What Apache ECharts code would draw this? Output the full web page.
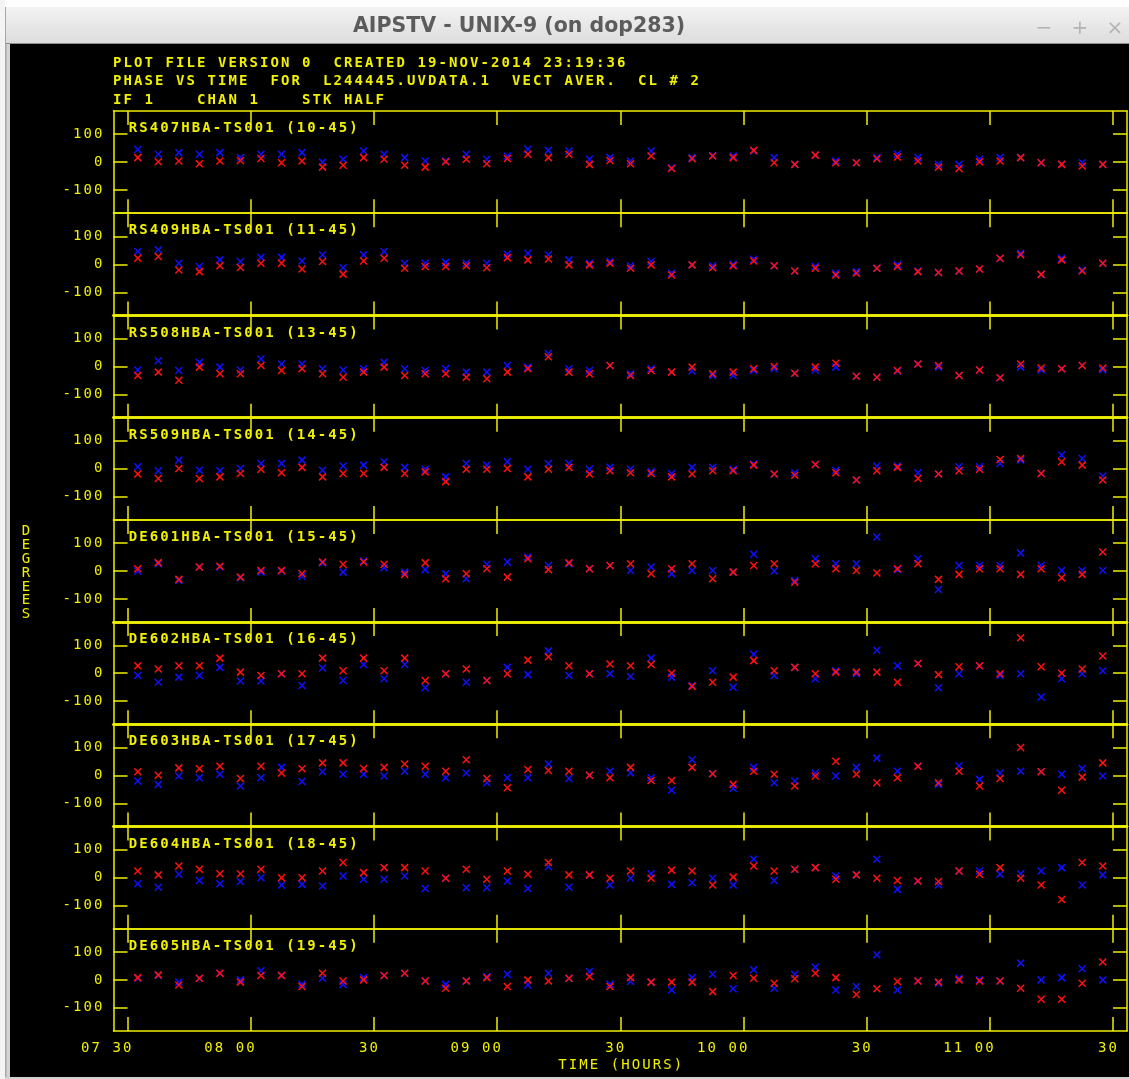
<!DOCTYPE html>
<html>
<head>
<meta charset="utf-8">
<title>AIPSTV - PHASE VS TIME</title>
<script src="https://cdn.jsdelivr.net/npm/echarts@6/dist/echarts.min.js"></script>
<style>
  html, body { margin: 0; padding: 0; background: #fff; }
  #plot { width: 1129px; height: 1079px; }
</style>
</head>
<body>
<div id="plot"></div>
<script>
// sample times, minutes since 00:00 (one point every 5 min, 07:32:30 .. 11:27:30)
const times = [452.5, 457.5, 462.5, 467.5, 472.5, 477.5, 482.5, 487.5, 492.5, 497.5,
  502.5, 507.5, 512.5, 517.5, 522.5, 527.5, 532.5, 537.5, 542.5, 547.5,
  552.5, 557.5, 562.5, 567.5, 572.5, 577.5, 582.5, 587.5, 592.5, 597.5,
  602.5, 607.5, 612.5, 617.5, 622.5, 627.5, 632.5, 637.5, 642.5, 647.5,
  652.5, 657.5, 662.5, 667.5, 672.5, 677.5, 682.5, 687.5]

const timeTicks = [450, 480, 510, 540, 570, 600, 630, 660, 690]
const timeTickLabels = ['07 30', '08 00', '30', '09 00', '30', '10 00', '30', '11 00', '30']
const phaseTicks = [-100, 0, 100]
const phaseTickLabels = ['-100', '0', '100']

const headerLines = [
  'PLOT FILE VERSION 0  CREATED 19-NOV-2014 23:19:36',
  'PHASE VS TIME  FOR  L244445.UVDATA.1  VECT AVER.  CL # 2',
  'IF 1    CHAN 1    STK HALF'
]

const baselines = [
  'RS407HBA-TS001 (10-45)', 'RS409HBA-TS001 (11-45)', 'RS508HBA-TS001 (13-45)',
  'RS509HBA-TS001 (14-45)', 'DE601HBA-TS001 (15-45)', 'DE602HBA-TS001 (16-45)',
  'DE603HBA-TS001 (17-45)', 'DE604HBA-TS001 (18-45)', 'DE605HBA-TS001 (19-45)'
]

// phases in degrees, blue and red polarisation
const rs407Blue = [45, 28, 34, 28, 34, 16, 28, 28, 34, 0, 10, 40, 28, 16, 4, 4, 28, 10, 22, 46, 42, 40, 10, 16, 4, 40, -20, 16, 24, 22, 40, 16, -8, 25, 4, -2, 16, 28, 16, -8, -8, 10, 16, 16, -2, -8, -2, -8]
const rs407Red = [16, 1, 4, -6, 4, 6, 13, -2, 4, -18, -11, 16, 10, -11, -18, 1, 10, -6, 13, 28, 16, 28, -8, 6, -6, 22, -23, 12, 22, 16, 42, -2, -8, 25, -2, -2, 12, 18, 4, -18, -23, 1, 4, 16, -2, -8, -14, -8]

const rs409Blue = [46, 52, 4, -8, 16, 10, 25, 25, 12, 34, -12, 34, 46, 4, 4, 7, 4, 4, 36, 40, 34, 16, 4, 10, -5, 10, -32, -2, -5, 0, 18, -5, -24, -8, -32, -26, -14, -2, -24, -29, -24, -17, 22, 40, -36, 22, -20, 4]
const rs409Red = [22, 28, -20, -26, -5, -11, 4, 4, -17, 10, -35, 12, 22, -14, -8, -8, -5, -12, 24, 16, 19, -2, -2, 4, -14, -2, -38, -2, -12, -5, 12, -5, -24, -14, -38, -32, -14, -8, -26, -29, -24, -17, 22, 34, -36, 16, -24, 4]

const rs508Blue = [-12, 21, -14, 15, -2, -12, 27, 9, 9, -8, -12, -8, 15, -8, -14, -8, -20, -20, 4, -2, 47, -8, -14, 4, -26, -8, -20, -16, -32, -32, -14, -8, -24, -12, -2, -35, -38, -16, 9, -2, -32, -12, -40, -2, -12, -8, 4, -12]
const rs508Red = [-32, -20, -49, -2, -26, -26, 4, -14, -8, -26, -38, -20, -2, -32, -26, -26, -38, -44, -20, -8, 35, -20, -26, 4, -32, -14, -20, -2, -26, -20, -8, 0, -24, -2, 12, -35, -38, -14, 9, 4, -32, -12, -40, 9, -5, -8, 4, -5]

const rs509Blue = [7, -7, 31, -5, -7, 1, 19, 19, 31, -5, 10, 13, 25, 5, -2, -29, 19, 13, 25, -2, 19, 19, -2, 5, -2, -11, -17, 5, 5, -2, 17, -19, -14, 15, -5, -40, 10, 10, -14, -19, 7, 7, 19, 31, -17, 49, 37, -26]
const rs509Red = [-19, -35, 1, -35, -29, -17, -2, -14, 5, -29, -17, -17, 5, -17, -11, -46, -2, -2, 1, -29, -2, 5, -19, -7, -14, -17, -29, -19, -7, -7, 13, -19, -23, 15, -14, -40, -7, 5, -35, -19, -7, -2, 33, 37, -17, 25, 13, -40]

const de601Blue = [0, 26, -34, 14, 14, -24, -4, 0, -19, 29, -4, 36, 12, -4, 5, -10, -28, 24, 32, 50, 20, 26, 8, 20, 2, 14, -10, 2, 2, -4, 60, 0, -34, 44, 26, 26, 122, 5, 44, -66, 20, 20, 20, 65, 20, 2, 2, 2]
const de601Red = [8, 30, -30, 14, 17, -22, 2, 2, -10, 32, 24, 32, 24, -12, 29, -28, -10, 8, -22, 44, 5, 29, 8, 20, 26, -10, 8, 26, -28, -4, 20, 26, -40, 26, 8, 2, -7, 8, 26, -30, -12, 8, 8, -12, 8, -24, -12, 68]

const de602Blue = [-8, -32, -14, -8, 21, -28, -28, -2, -44, 19, -26, 31, -20, 31, -52, -2, -32, -26, 21, -5, 80, -8, -2, -2, -12, 54, -14, -44, 9, -50, 68, -8, 21, -20, 9, -2, 82, 27, 35, -52, -2, 27, -8, -2, -85, -20, -2, 9]
const de602Red = [27, 15, 27, 27, 54, 4, -8, -2, -2, 54, 9, 54, 9, 54, -26, -2, 15, -26, -2, 47, 59, 27, -2, 33, 27, 31, 0, -47, -32, -14, 45, 9, 21, -2, 4, 4, 4, -32, 35, -5, 23, 27, -2, 127, 23, 0, 15, 62]

const de603Blue = [-20, -32, -2, -8, 4, -38, -8, 29, -22, 13, 4, 4, -2, 15, 4, -8, 9, -26, -8, -8, 41, -11, 1, 15, 9, -8, -53, 56, 6, -46, 29, -26, -20, 9, -2, 29, 62, 15, 33, -32, 35, -14, 9, 15, 13, 4, 25, -2]
const de603Red = [13, 1, 27, 24, 33, -11, 33, 9, 24, 45, 45, 25, 29, 41, 33, 15, 56, -11, -44, 21, 18, 15, 1, -8, 29, -18, -18, 29, 6, -32, 15, 4, -38, -2, 51, 4, -26, -8, 33, -26, 15, -38, -11, 100, 13, -53, -6, 45]

const de604Blue = [-22, -34, 12, -10, -22, -14, 0, -26, -24, -30, 6, -6, -6, 6, -39, -2, -36, -36, -12, -39, 39, -34, 10, -26, -2, 14, -24, -18, -2, -26, 66, -10, 30, 36, 6, 10, 66, -42, -12, -26, 24, 24, 12, 14, 24, 36, -26, 10]
const de604Red = [24, 10, 42, 30, 14, 14, 30, 0, 0, 24, 54, 18, 36, 36, 24, -2, 30, -6, 24, 12, 54, 10, 10, -2, 24, -2, 27, 24, -26, 2, 42, 24, 30, 36, -6, 10, -2, -10, -12, -14, 24, 12, 36, -2, -26, -78, 54, 42]

const de605Blue = [6, 16, -8, 6, 24, 0, 33, 16, -16, 6, -16, 8, 16, 24, -4, -16, -4, 12, 20, -18, 24, 6, 30, -16, -6, -8, -36, 8, 20, -32, 36, -30, 20, 45, -36, -24, 90, -36, -4, -12, 6, 0, -4, 60, 0, 8, 40, 0]
const de605Red = [8, 18, -18, 6, 24, -8, 16, 16, -24, 24, -4, 0, 16, 24, -4, -30, -4, 8, -24, 0, -4, 6, 12, -24, 8, -8, -8, -8, -42, 16, 6, -12, 4, 24, 8, -52, -32, -6, -4, -8, 0, -4, -4, -30, -69, -69, -12, 64]

const blueSets = [rs407Blue, rs409Blue, rs508Blue, rs509Blue, de601Blue, de602Blue, de603Blue, de604Blue, de605Blue]
const redSets = [rs407Red, rs409Red, rs508Red, rs509Red, de601Red, de602Red, de603Red, de604Red, de605Red]

// layout
const YELLOW = '#f0f000'
const PLOT_LEFT = 113.5
const PLOT_WIDTH = 1013.5
const PLOT_TOP = 111
const PANEL_H = (1031 - 111) / 9
const PX_PER_MIN = (1113 - 127.5) / 240
const X_MIN = 450 - (127.5 - PLOT_LEFT) / PX_PER_MIN
const X_MAX = 690 + (PLOT_LEFT + PLOT_WIDTH - 1113) / PX_PER_MIN
const LABEL_SHIFT = 5 / PX_PER_MIN
const Y_MIN = -183
const Y_MAX = 183
const thickAfter = [1, 2, 4, 5, 6]   // panel borders drawn doubled in the original

const charStyle = {
  fontFamily: 'DejaVu Sans Mono', fontSize: 14, color: YELLOW,
  width: 10.5, align: 'center', lineHeight: 16
}
// the AIPS font is wide: give every character a fixed cell
function mono(s) {
  return s.split('').map(function (ch) { return '{c|' + ch + '}' }).join('')
}

const crossSymbol = 'path://M0,0L10,10M10,0L0,10'

const grids = [], xAxes = [], yAxes = [], series = []
const titles = headerLines.map(function (line, i) {
  return {
    text: mono(line), left: 112, top: [55, 73.5, 92][i], padding: 0,
    textStyle: { rich: { c: charStyle } }
  }
})

baselines.forEach(function (name, i) {
  const top = PLOT_TOP + i * PANEL_H
  const last = i === baselines.length - 1
  const bottomW = thickAfter.indexOf(i) >= 0 ? 2.5 : 1.5
  const topW = thickAfter.indexOf(i - 1) >= 0 ? 2.5 : 1.5
  grids.push({ left: PLOT_LEFT, top: top, width: PLOT_WIDTH, height: PANEL_H })

  titles.push({
    text: mono(name), left: 127.8, top: top + 9.5, padding: 0,
    textStyle: { rich: { c: charStyle } }
  })

  const tick = { inside: true, length: 14, customValues: timeTicks, lineStyle: { color: YELLOW, width: 1.5 } }
  xAxes.push({
    type: 'value', gridIndex: i, position: 'bottom', min: X_MIN, max: X_MAX,
    axisLine: { onZero: false, lineStyle: { color: YELLOW, width: bottomW } },
    axisTick: tick,
    splitLine: { show: false },
    axisLabel: {
      show: last, customValues: timeTicks.map(function (t) { return t + LABEL_SHIFT }),
      align: 'right', margin: 9,
      formatter: function (v) {
        const k = timeTicks.indexOf(Math.round(v / 30) * 30)
        return mono(timeTickLabels[k])
      },
      rich: { c: charStyle }
    },
    name: last ? mono('TIME (HOURS)') : '',
    nameLocation: 'middle', nameGap: 26,
    nameTextStyle: { rich: { c: charStyle } }
  })
  xAxes.push({
    type: 'value', gridIndex: i, position: 'top', min: X_MIN, max: X_MAX,
    axisLine: { onZero: false, lineStyle: { color: YELLOW, width: topW } },
    axisTick: tick,
    splitLine: { show: false },
    axisLabel: { show: false }
  })

  const ytick = { inside: true, length: 14, customValues: phaseTicks, lineStyle: { color: YELLOW, width: 1.5 } }
  yAxes.push({
    type: 'value', gridIndex: i, position: 'left', min: Y_MIN, max: Y_MAX,
    axisLine: { show: true, onZero: false, lineStyle: { color: YELLOW, width: 1.5 } },
    axisTick: ytick,
    splitLine: { show: false },
    axisLabel: {
      customValues: phaseTicks, margin: 10,
      formatter: function (v) { return mono(phaseTickLabels[phaseTicks.indexOf(v)]) },
      rich: { c: charStyle }
    }
  })
  yAxes.push({
    type: 'value', gridIndex: i, position: 'right', min: Y_MIN, max: Y_MAX,
    axisLine: { show: true, onZero: false, lineStyle: { color: YELLOW, width: 1.5 } },
    axisTick: ytick,
    splitLine: { show: false },
    axisLabel: { show: false }
  })

  const pairs = [[blueSets[i], '#1010ff'], [redSets[i], '#ff1010']]
  pairs.forEach(function (p) {
    series.push({
      type: 'scatter', xAxisIndex: 2 * i, yAxisIndex: 2 * i,
      symbol: crossSymbol, symbolSize: 7, silent: true,
      itemStyle: { color: 'transparent', borderColor: p[1], borderWidth: 1.5, opacity: 1 },
      data: times.map(function (t, k) { return [t, p[0][k]] })
    })
  })
})

// window frame of the AIPS TV
const chrome = [
  { type: 'rect', shape: { x: 0, y: 0, width: 1129, height: 7 }, style: { fill: '#ffffff' } },
  { type: 'rect', shape: { x: 0, y: 0, width: 5, height: 1079 }, style: { fill: '#f4f4f4' } },
  { type: 'rect', shape: { x: 5, y: 7, width: 5, height: 1072 }, style: { fill: '#d2d2d2' } },
  { type: 'rect', shape: { x: 5, y: 7, width: 1.5, height: 1072 }, style: { fill: '#a8a8a8' } },
  { type: 'rect', shape: { x: 5, y: 1077, width: 1124, height: 2 }, style: { fill: '#d2d2d2' } },
  {
    type: 'rect', shape: { x: 6, y: 7, width: 1123, height: 37 },
    style: {
      fill: new echarts.graphic.LinearGradient(0, 0, 0, 1, [
        { offset: 0, color: '#f3f3f3' }, { offset: 1, color: '#dcdcdc' }
      ])
    }
  },
  { type: 'rect', shape: { x: 6, y: 43, width: 1123, height: 1 }, style: { fill: '#8e8e8e' } },
  {
    type: 'text', x: 519, y: 27,
    style: { text: 'AIPSTV - UNIX-9 (on dop283)', fill: '#5c5c5c', font: 'bold 20.5px "DejaVu Sans"', align: 'center', verticalAlign: 'middle' }
  },
  { type: 'text', x: 1044, y: 29, style: { text: '−', fill: '#b4b4b4', font: '20px "DejaVu Sans"', align: 'center', verticalAlign: 'middle' } },
  { type: 'text', x: 1080, y: 29, style: { text: '+', fill: '#b4b4b4', font: '20px "DejaVu Sans"', align: 'center', verticalAlign: 'middle' } },
  { type: 'text', x: 1115, y: 29, style: { text: '×', fill: '#b4b4b4', font: '20px "DejaVu Sans"', align: 'center', verticalAlign: 'middle' } },
  {
    type: 'text', x: 26, y: 573,
    style: { text: 'D\nE\nG\nR\nE\nE\nS', fill: YELLOW, font: '14px "DejaVu Sans Mono"', align: 'center', verticalAlign: 'middle', lineHeight: 13.9 }
  }
]

const chart = echarts.init(document.getElementById('plot'), null, { renderer: 'canvas' })
chart.setOption({
  backgroundColor: '#000',
  animation: false,
  title: titles,
  grid: grids,
  xAxis: xAxes,
  yAxis: yAxes,
  series: series,
  graphic: chrome
})
</script>
</body>
</html>
